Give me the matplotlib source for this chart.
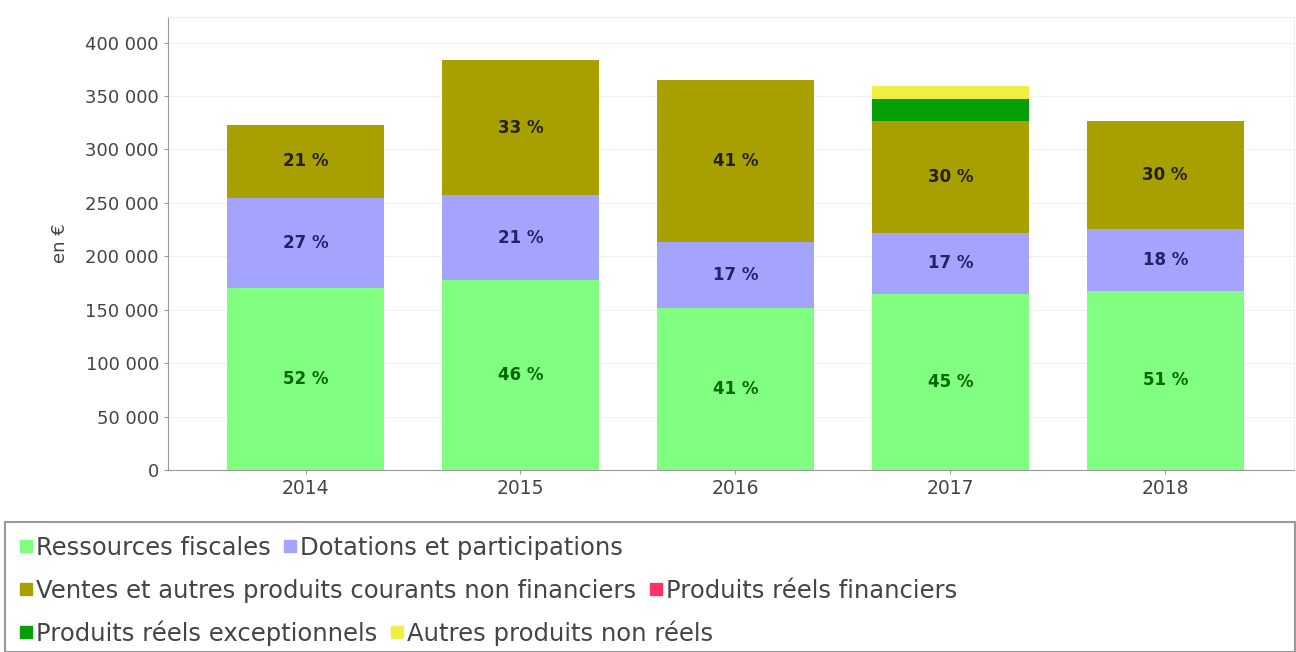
import matplotlib.pyplot as plt
from matplotlib.patches import Rectangle
from matplotlib.lines import Line2D

years = ["2014", "2015", "2016", "2017", "2018"]

# values in euros
ressources_fiscales = [170000, 178000, 152000, 165000, 168000]
dotations = [85000, 79000, 61000, 57000, 58000]
ventes = [68000, 127000, 152000, 105000, 101000]
produits_financiers = [0, 0, 0, 0, 0]
produits_exceptionnels = [0, 0, 0, 20500, 0]
autres_non_reels = [0, 0, 0, 12000, 0]

# percentage labels as printed in the bars
pct_fiscales = [52, 46, 41, 45, 51]
pct_dotations = [27, 21, 17, 17, 18]
pct_ventes = [21, 33, 41, 30, 30]

series = [
    ("Ressources fiscales", ressources_fiscales, "#80ff80"),
    ("Dotations et participations", dotations, "#a4a4ff"),
    ("Ventes et autres produits courants non financiers", ventes, "#a8a000"),
    ("Produits réels financiers", produits_financiers, "#ff3366"),
    ("Produits réels exceptionnels", produits_exceptionnels, "#06a006"),
    ("Autres produits non réels", autres_non_reels, "#eeee44"),
]
labels_pct = [(pct_fiscales, "#006600"), (pct_dotations, "#222266"), (pct_ventes, "#222200")]

fig = plt.figure(figsize=(12.96, 6.52), dpi=100)
ax = fig.add_axes([0.1296, 0.279, 0.869, 0.695])

x = list(range(len(years)))
bottom = [0] * len(years)
for i, (name, vals, color) in enumerate(series):
    ax.bar(x, vals, width=0.73, bottom=bottom, color=color, linewidth=0)
    if i < 3:
        pcts, tcolor = labels_pct[i]
        for j in x:
            ax.text(j, bottom[j] + vals[j] / 2, f"{pcts[j]} %", ha="center", va="center",
                    fontsize=12, color=tcolor, fontweight="bold")
    bottom = [b + v for b, v in zip(bottom, vals)]

ax.set_xlim(-0.64, 4.6)
ax.set_ylim(0, 424000)
yt = list(range(0, 400001, 50000))
ax.set_yticks(yt)
ax.set_yticklabels([f"{v:,}".replace(",", " ") for v in yt], fontsize=13, color="#444444")
ax.set_xticks(x)
ax.set_xticklabels(years, fontsize=13.5, color="#444444")
ax.yaxis.grid(True, color="#f0f0f0", linewidth=0.8)
ax.set_axisbelow(True)
for s in ["top", "right"]:
    ax.spines[s].set_color("#eeeeee")
ax.spines["left"].set_color("#999999")
ax.spines["bottom"].set_color("#999999")
ax.tick_params(length=3, color="#999999")
ax.set_ylabel("en €", fontsize=13, color="#444444", labelpad=12)

# legend box
fig.patches.append(Rectangle((0.004, 0.0), 0.995, 0.2, transform=fig.transFigure,
                             facecolor="white", edgecolor="#999999", linewidth=1.5))
rows = [[0, 1], [2, 3], [4, 5]]
row_y = [0.16, 0.094, 0.029]
for r, yy in zip(rows, row_y):
    handles = [Line2D([], [], marker="s", linestyle="", markersize=8,
                      color=series[k][2], label=series[k][0]) for k in r]
    fig.legend(handles=handles, loc="center left", bbox_to_anchor=(-0.003, yy), ncol=2,
               frameon=False, fontsize=17.5, handletextpad=0.05, columnspacing=0.45,
               handlelength=0.7, labelcolor="#444444")

fig.savefig("out.png", dpi=100)
